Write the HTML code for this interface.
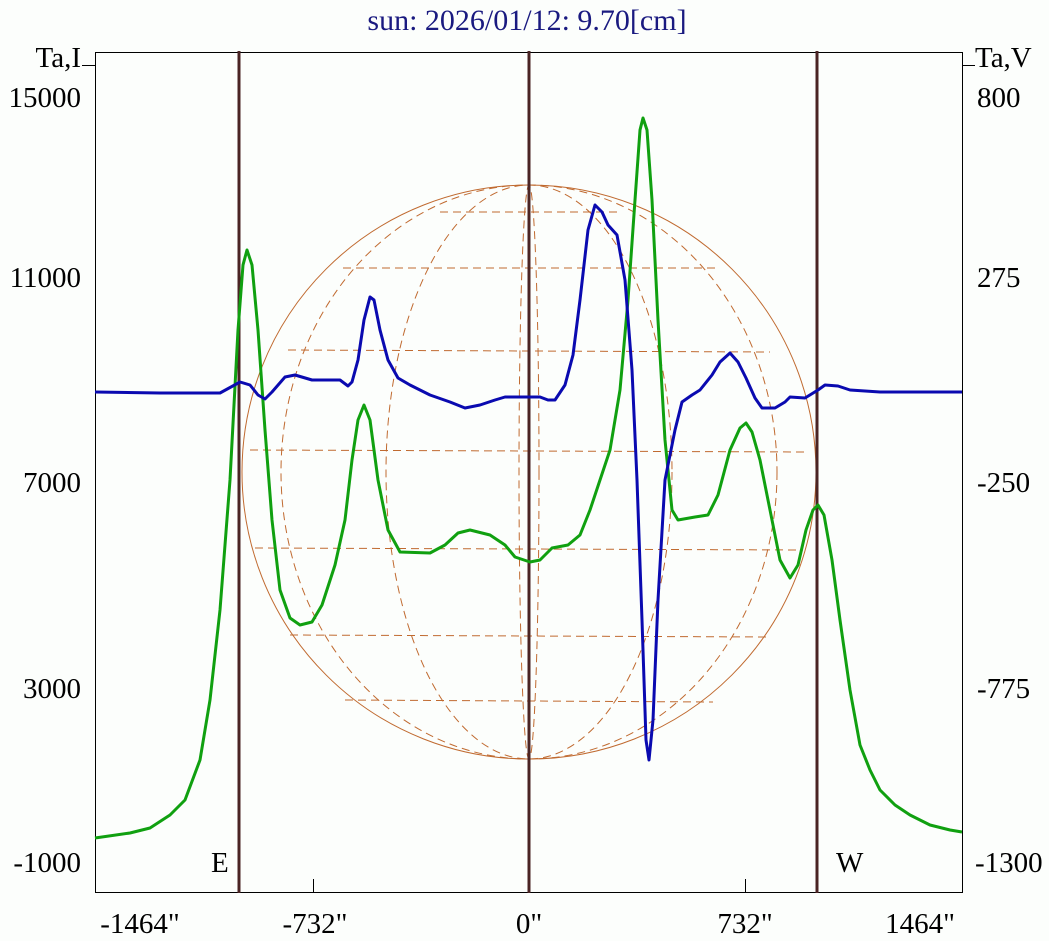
<!DOCTYPE html>
<html><head><meta charset="utf-8"><style>
html,body{margin:0;padding:0;background:#fcfefc;}
svg{display:block;}
text{font-family:"Liberation Serif",serif;font-size:29px;fill:#000;}
</style></head><body>
<svg width="1049" height="941" viewBox="0 0 1049 941" xmlns="http://www.w3.org/2000/svg">
<rect width="1049" height="941" fill="#fcfefc"/>
<text x="527" y="30" text-anchor="middle" style="fill:#1a1a80;font-size:30px">sun: 2026/01/12: 9.70[cm]</text>
<g fill="none" stroke="#c06a30" stroke-width="1">
<circle cx="529" cy="472" r="287"/>
<g stroke-dasharray="8,5">
<ellipse cx="529" cy="472" rx="10" ry="287"/>
<ellipse cx="529" cy="472" rx="143" ry="287"/>
<ellipse cx="529" cy="472" rx="248" ry="287"/>
<line x1="440" y1="212" x2="618" y2="212"/>
<line x1="343" y1="268" x2="715" y2="268"/>
<line x1="288" y1="350" x2="770" y2="352"/>
<line x1="250" y1="450" x2="808" y2="452"/>
<line x1="255" y1="548" x2="803" y2="550"/>
<line x1="290" y1="635" x2="768" y2="637"/>
<line x1="345" y1="700" x2="713" y2="702"/>
</g></g>
<rect x="95.5" y="52.5" width="867" height="840" fill="none" stroke="#000" stroke-width="1"/>
<line x1="82" y1="65.5" x2="95" y2="65.5" stroke="#000"/>
<line x1="962" y1="65.5" x2="975" y2="65.5" stroke="#000"/>
<line x1="313.5" y1="879" x2="313.5" y2="892" stroke="#000"/>
<line x1="745.5" y1="879" x2="745.5" y2="892" stroke="#000"/>
<g stroke="#4a2424" stroke-width="3">
<line x1="239" y1="51" x2="239" y2="893"/>
<line x1="529" y1="51" x2="529" y2="893"/>
<line x1="817" y1="51" x2="817" y2="893"/>
</g>
<g text-anchor="end">
<text x="81" y="67">Ta,I</text>
<text x="81" y="107">15000</text>
<text x="81" y="287">11000</text>
<text x="81" y="492">7000</text>
<text x="81" y="698">3000</text>
<text x="81" y="872">-1000</text>
</g>
<g text-anchor="start">
<text x="975" y="67">Ta,V</text>
<text x="977" y="107">800</text>
<text x="977" y="287">275</text>
<text x="977" y="492">-250</text>
<text x="977" y="698">-775</text>
<text x="975" y="872">-1300</text>
</g>
<text x="211" y="872">E</text>
<text x="836" y="872">W</text>
<g text-anchor="middle">
<text x="140" y="933">-1464"</text>
<text x="315" y="933">-732"</text>
<text x="529" y="933">0"</text>
<text x="745" y="933">732"</text>
<text x="920" y="933">1464"</text>
</g>
<polyline fill="none" stroke="#10a010" stroke-width="3" stroke-linejoin="round" points="95,838 130,833 150,828 170,815 185,800 200,760 210,700 220,610 230,480 238,330 243,265 247,250 252,265 258,330 265,430 272,520 280,590 290,618 300,625 312,622 322,605 335,565 345,520 352,460 358,420 364,405 370,420 378,480 388,530 400,552 430,553 445,545 458,533 470,530 490,535 505,545 515,557 530,562 540,560 552,548 568,545 580,535 590,510 600,480 610,450 620,390 628,300 635,200 640,130 643,118 647,130 652,200 658,320 665,440 672,510 678,520 695,517 708,515 718,495 730,450 740,428 746,423 752,432 760,460 770,510 780,560 790,578 798,565 806,530 813,510 818,505 824,515 832,560 840,620 850,690 860,745 870,770 880,790 895,805 910,815 930,825 950,830 962,832"/>
<polyline fill="none" stroke="#0a0ab0" stroke-width="3" stroke-linejoin="round" points="95,392 160,393 220,393 240,382 250,385 258,395 265,399 272,392 285,377 295,375 312,380 340,380 348,386 352,382 358,360 364,320 370,297 374,300 380,330 388,360 398,378 410,385 430,395 450,402 465,408 480,405 495,400 505,397 540,397 548,400 555,400 565,385 573,355 580,300 588,230 595,205 602,212 608,225 617,235 625,280 632,370 637,480 642,620 646,740 649,760 653,720 658,600 665,480 675,430 682,402 692,395 700,390 712,375 720,362 730,353 738,362 746,378 755,398 762,408 775,408 785,402 790,397 805,398 818,390 825,385 838,386 850,390 880,392 962,392"/>
</svg>
</body></html>
